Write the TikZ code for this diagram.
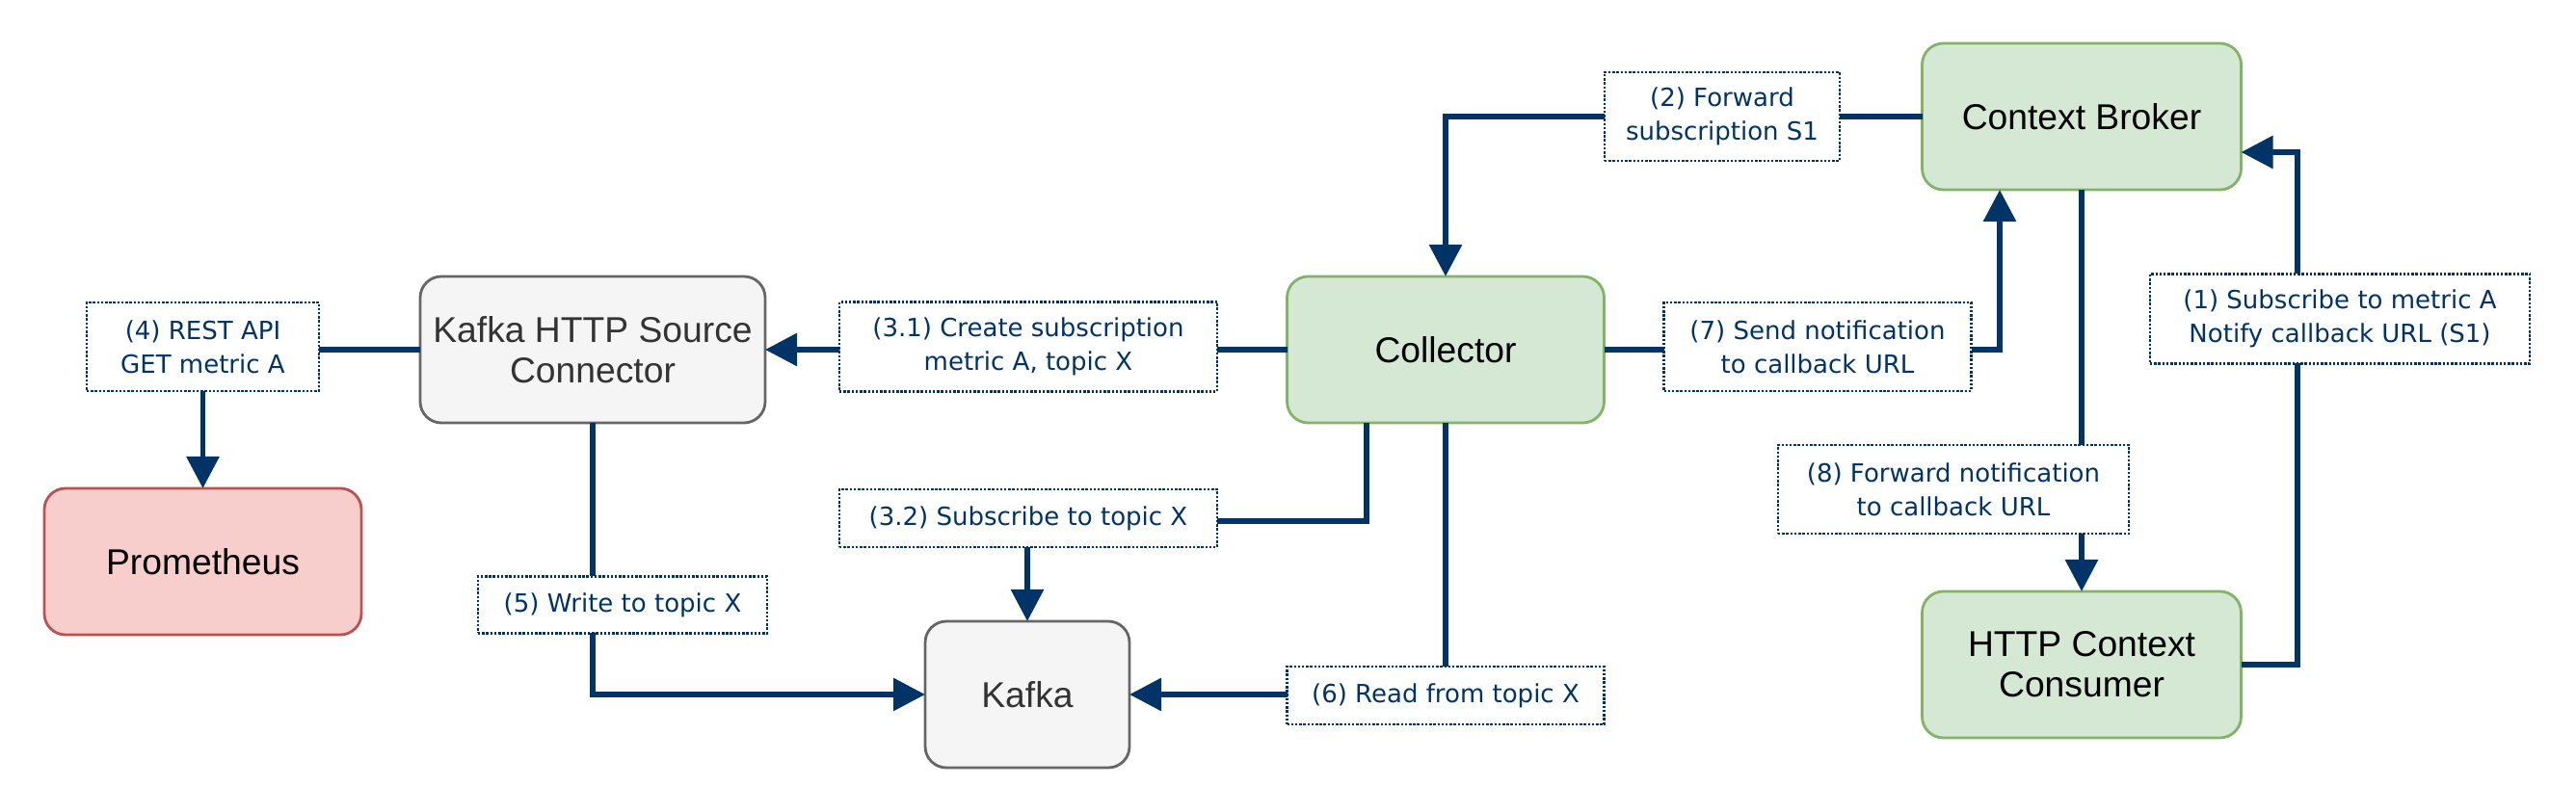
\documentclass[tikz,border=0pt]{standalone}
\usepackage{fontspec}
\setmainfont{Liberation Sans}
\newfontfamily\lblfont{DejaVu Sans}
\usetikzlibrary{arrows.meta}
\definecolor{navy}{HTML}{003366}
\definecolor{gfill}{HTML}{D5E8D4}
\definecolor{gdraw}{HTML}{82B366}
\definecolor{kfill}{HTML}{F5F5F5}
\definecolor{kdraw}{HTML}{666666}
\definecolor{ktext}{HTML}{333333}
\definecolor{rfill}{HTML}{F8CECC}
\definecolor{rdraw}{HTML}{B85450}
\begin{document}
\begin{tikzpicture}[
  box/.style={rounded corners=0.22cm, minimum height=1.52cm, inner sep=0pt, outer sep=0pt,
    line width=0.8pt, align=center, font=\fontsize{10.6}{11.9}\selectfont},
  green/.style={box, fill=gfill, draw=gdraw},
  grey/.style={box, fill=kfill, draw=kdraw, text=ktext},
  red/.style={box, fill=rfill, draw=rdraw},
  lbl/.style={draw=navy, fill=white, text=navy, line width=0.75pt, dash pattern=on 0.7pt off 0.5pt,
    inner sep=0pt, align=center, font=\lblfont\fontsize{7.4}{9.9}\selectfont},
  link/.style={draw=navy, line width=1.7pt, -{Triangle[length=0.33cm,width=0.33cm]}}]
\useasboundingbox (0,0) rectangle (26.73,8.43);

% components
\node[red, minimum width=3.29cm] (prom) at (2.105,2.60) {Prometheus};
\node[grey, minimum width=3.58cm] (conn) at (6.15,4.80) {Kafka HTTP Source\\Connector};
\node[green, minimum width=3.29cm] (coll) at (15.00,4.80) {Collector};
\node[green, minimum width=3.31cm] (broker) at (21.60,7.22) {Context Broker};
\node[green, minimum width=3.31cm] (consumer) at (21.60,1.53) {HTTP Context\\Consumer};
\node[grey, minimum width=2.12cm] (kafka) at (10.66,1.22) {Kafka};

% flows
\draw[link] (consumer.east) -- ++(0.58,0) |- ([yshift=-0.37cm]broker.east);
\draw[link] (broker.west) -| (coll.north);
\draw[link] (coll.west) -- (conn.east);
\draw[link] ([xshift=-0.82cm]coll.south) -- ++(0,-1.02) -| (kafka.north);
\draw[link] (conn.west) -| (prom.north);
\draw[link] (conn.south) |- (kafka.west);
\draw[link] (coll.south) |- (kafka.east);
\draw[link] (coll.east) -| ([xshift=-0.85cm]broker.south);
\draw[link] (broker.south) -- (consumer.north);

% step labels
\node[lbl, minimum width=3.94cm, minimum height=0.93cm] (l1) at (24.28,5.12) {(1) Subscribe to metric A\\Notify callback URL (S1)};
\node[lbl, minimum width=2.44cm, minimum height=0.92cm] (l2) at (17.87,7.22) {(2) Forward\\subscription S1};
\node[lbl, minimum width=3.92cm, minimum height=0.93cm] (l31) at (10.67,4.83) {(3.1) Create subscription\\metric A, topic X};
\node[lbl, minimum width=3.92cm, minimum height=0.60cm] (l32) at (10.67,3.05) {(3.2) Subscribe to topic X};
\node[lbl, minimum width=2.41cm, minimum height=0.92cm] (l4) at (2.105,4.83) {(4) REST API\\GET metric A};
\node[lbl, minimum width=3.00cm, minimum height=0.59cm] (l5) at (6.46,2.15) {(5) Write to topic X};
\node[lbl, minimum width=3.29cm, minimum height=0.60cm] (l6) at (15.00,1.21) {(6) Read from topic X};
\node[lbl, minimum width=3.19cm, minimum height=0.92cm] (l7) at (18.86,4.83) {(7) Send notification\\to callback URL};
\node[lbl, minimum width=3.64cm, minimum height=0.92cm] (l8) at (20.27,3.35) {(8) Forward notification\\to callback URL};
\end{tikzpicture}
\end{document}
